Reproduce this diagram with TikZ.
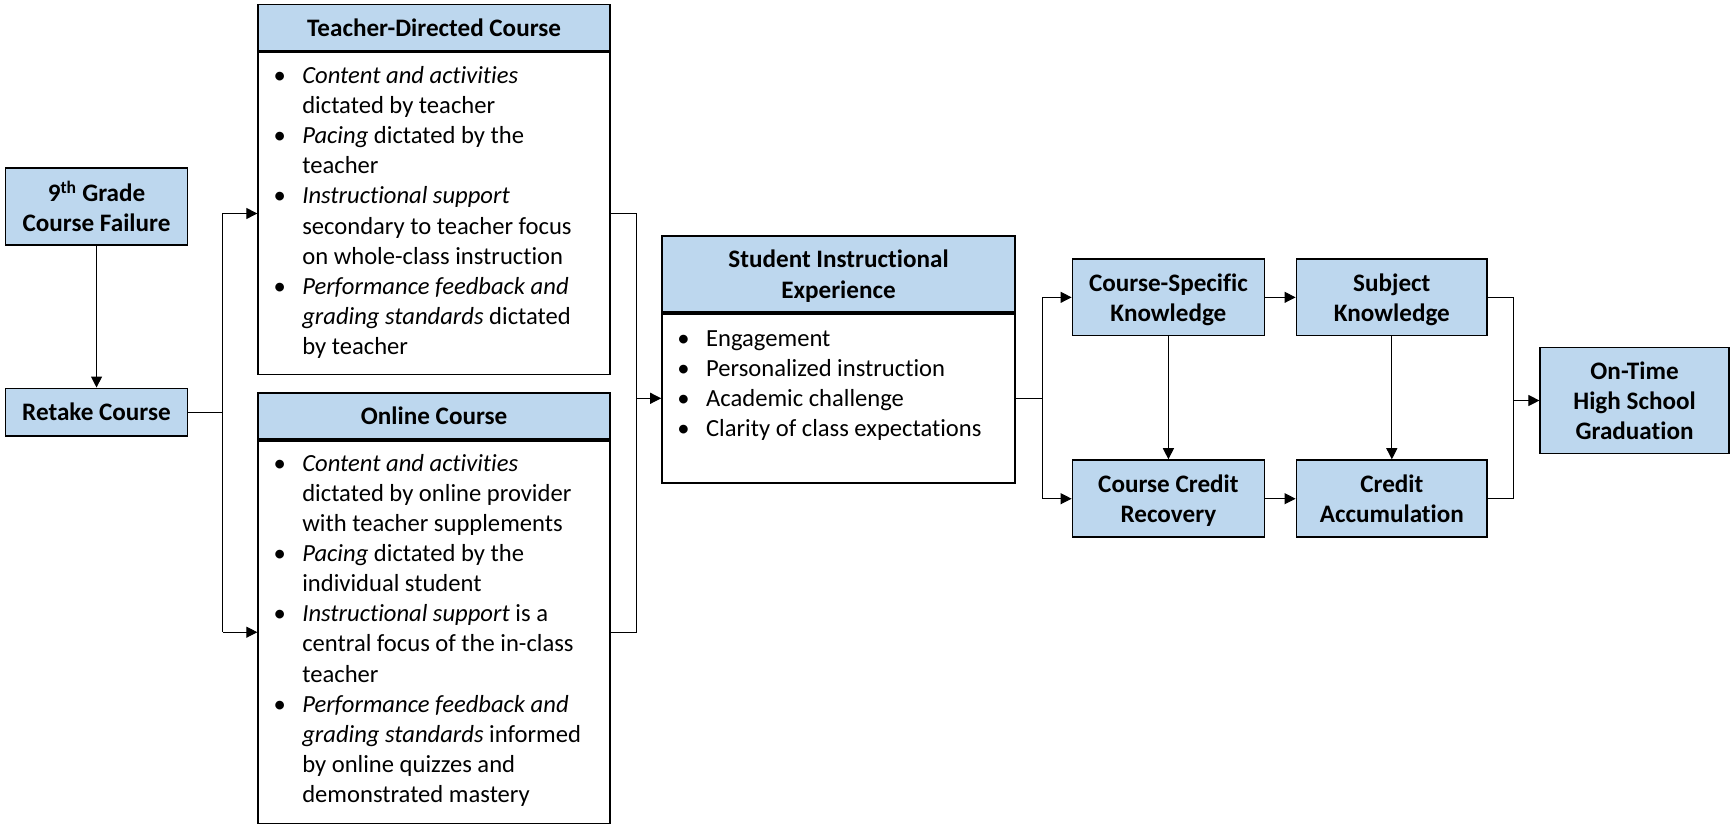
\documentclass[tikz,border=0pt]{standalone}
\usepackage{fontspec}
\setmainfont{Carlito}[Ligatures=NoCommon]
\usetikzlibrary{arrows.meta}
\definecolor{boxblue}{HTML}{BDD7EE}
% bullet item with hanging indent
\newcommand{\itm}{\par\hangindent=28pt\hangafter=1\noindent\makebox[28pt][l]{\hspace{2pt}\textbullet}\strut}
% body text of a list box: height, width, top gap, items
\newcommand{\bodytext}[4]{\parbox[c][#1][t]{#2}{\vspace*{#3}#4}}
% centred lines set slightly below the box centre
\newcommand{\lowtext}[1]{\raisebox{-2.5pt}[\height][\depth]{\begin{tabular}{@{}c@{}}#1\end{tabular}}}
\begin{document}
\begin{tikzpicture}[x=1pt,y=-1pt,
  every node/.style={font=\fontsize{22.3}{27.3}\selectfont, inner sep=0pt},
  bluebox/.style={draw=black, line width=1.5pt, fill=boxblue, align=center, font=\fontsize{22.8}{27.3}\selectfont\bfseries},
  bodybox/.style={draw=black, line width=1.5pt, fill=white, inner xsep=12pt, inner ysep=0pt},
  conn/.style={draw=black, line width=0.9pt},
  arr/.style={conn, -{Triangle[length=10pt,width=10pt]}}
]
\useasboundingbox (0,0) rectangle (1568,747);

% left column
\node[bluebox, minimum width=165pt, minimum height=70pt] (fail) at (87.5,187) {9\textsuperscript{th} Grade\\Course Failure};
\node[bluebox, minimum width=165pt, minimum height=43pt] (retake) at (87.5,373.5) {Retake Course};

% teacher-directed course
\node[bluebox, minimum width=319pt, minimum height=42pt] (tdh) at (393.5,25) {Teacher-Directed Course};
\node[bodybox, anchor=north] (tdb) at (tdh.south) {\bodytext{292pt}{295pt}{9pt}{%
\itm\textit{Content and activities}\newline dictated by teacher
\itm\textit{Pacing} dictated by the\newline teacher
\itm\textit{Instructional support}\newline secondary to teacher focus\newline on whole-class instruction
\itm\textit{Performance feedback and}\newline \textit{grading standards} dictated\newline by teacher}};

% online course
\node[bluebox, minimum width=319pt, minimum height=42pt] (olh) at (393.5,377) {Online Course};
\node[bodybox, anchor=north] (olb) at (olh.south) {\bodytext{347pt}{295pt}{8.5pt}{%
\itm\textit{Content and activities}\newline dictated by online provider\newline with teacher supplements
\itm\textit{Pacing} dictated by the\newline individual student
\itm\textit{Instructional support} is a\newline central focus of the in-class\newline teacher
\itm\textit{Performance feedback and}\newline \textit{grading standards} informed\newline by online quizzes and\newline demonstrated mastery}};

% student instructional experience
\node[bluebox, minimum width=320pt, minimum height=69pt] (sih) at (760,248.5) {\lowtext{Student Instructional\\Experience}};
\node[bodybox, anchor=north] (sib) at (sih.south) {\bodytext{153pt}{296pt}{10.5pt}{%
\itm Engagement
\itm Personalized instruction
\itm Academic challenge
\itm Clarity of class expectations}};

% outcomes
\node[bluebox, minimum width=174pt, minimum height=69pt] (csk) at (1059,269.5) {\lowtext{Course-Specific\\Knowledge}};
\node[bluebox, minimum width=173pt, minimum height=69pt] (sk) at (1261.5,269.5) {\lowtext{Subject\\Knowledge}};
\node[bluebox, minimum width=174pt, minimum height=70pt] (ccr) at (1059,452) {\lowtext{Course Credit\\Recovery}};
\node[bluebox, minimum width=173pt, minimum height=70pt] (ca) at (1261.5,452) {\lowtext{Credit\\Accumulation}};
\node[bluebox, minimum width=171pt, minimum height=96pt] (grad) at (1481.5,363) {On-Time\\High School\\Graduation};

% junction columns
\coordinate (jl) at (202,0);
\coordinate (jr) at (577,0);
\coordinate (jm) at (945,0);
\coordinate (jg) at (1372,0);

% connectors
\draw[arr] (fail) -- (retake);

\draw[conn] (retake.east) -- (retake.east -| jl);
\draw[conn] (jl |- tdb.west) -- (jl |- olb.west);
\draw[arr] (jl |- tdb.west) -- (tdb.west);
\draw[arr] (jl |- olb.west) -- (olb.west);

\draw[conn] (tdb.east) -- (tdb.east -| jr) -- (jr |- olb.east) -- (olb.east);
\draw[arr] (jr |- sib.west) -- (sib.west);

\draw[conn] (sib.east) -- (sib.east -| jm);
\draw[conn] (jm |- csk.west) -- (jm |- ccr.west);
\draw[arr] (jm |- csk.west) -- (csk.west);
\draw[arr] (jm |- ccr.west) -- (ccr.west);

\draw[arr] (csk) -- (sk);
\draw[arr] (ccr) -- (ca);
\draw[arr] (csk) -- (ccr);
\draw[arr] (sk) -- (ca);

\draw[conn] (sk.east) -- (sk.east -| jg) -- (jg |- ca.east) -- (ca.east);
\draw[arr] (jg |- grad.west) -- (grad.west);
\end{tikzpicture}
\end{document}
